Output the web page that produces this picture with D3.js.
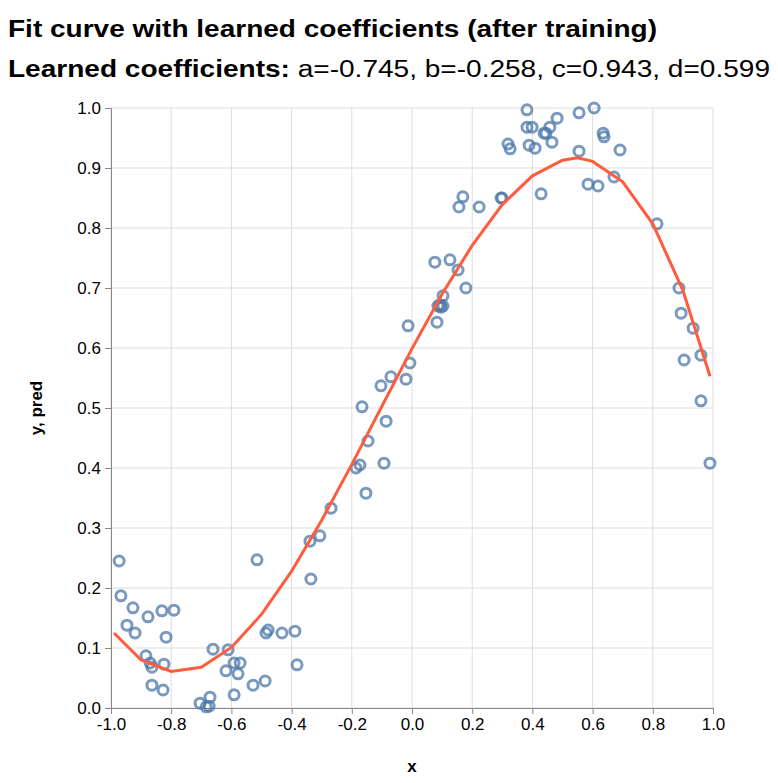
<!DOCTYPE html>
<html><head><meta charset="utf-8">
<script src="https://cdn.jsdelivr.net/npm/d3@7"></script>
<style>body{margin:0;background:#fff;font-family:"Liberation Sans",Arial,sans-serif}</style>
</head><body>
<script>
const xs = [-0.973,-0.967,-0.947,-0.927,-0.920,-0.877,-0.884,-0.870,-0.864,-0.864,-0.831,-0.824,-0.827,-0.817,-0.791,
  -0.704,-0.684,-0.671,-0.674,-0.661,-0.611,-0.618,-0.591,-0.591,-0.571,-0.578,-0.528,-0.515,-0.488,-0.485,-0.478,
  -0.432,-0.389,-0.382,-0.336,-0.339,-0.306,-0.269,-0.186,-0.173,-0.166,-0.153,-0.146,-0.103,-0.093,-0.086,-0.070,
  -0.020,-0.007,-0.013,0.076,0.083,0.086,0.093,0.096,0.103,0.103,0.126,0.153,0.179,0.156,0.169,0.223,0.296,0.299,
  0.319,0.326,0.382,0.382,0.399,0.389,0.409,0.429,0.439,0.445,0.458,0.482,0.465,0.555,0.555,0.585,0.605,0.618,
  0.635,0.638,0.671,0.691,0.814,0.887,0.894,0.904,0.934,0.960,0.960,0.990];
const ys = [0.245,0.187,0.138,0.167,0.125,0.152,0.087,0.075,0.068,0.038,0.162,0.073,0.030,0.118,0.163,
  0.008,0.002,0.018,0.003,0.098,0.097,0.062,0.022,0.075,0.075,0.057,0.038,0.247,0.045,0.125,0.130,
  0.125,0.128,0.072,0.215,0.278,0.287,0.333,0.400,0.405,0.502,0.358,0.445,0.537,0.408,0.478,0.552,
  0.548,0.575,0.637,0.743,0.643,0.670,0.672,0.668,0.687,0.670,0.747,0.730,0.700,0.835,0.852,0.835,0.850,0.850,
  0.940,0.932,0.997,0.968,0.968,0.938,0.933,0.857,0.958,0.958,0.968,0.983,0.943,0.928,0.992,0.873,1.000,0.870,
  0.958,0.952,0.885,0.930,0.807,0.700,0.658,0.580,0.633,0.588,0.512,0.408];
const curveX = [-0.99,-0.9,-0.8,-0.7,-0.6,-0.5,-0.4,-0.3,-0.2,-0.1,0,0.1,0.2,0.3,0.4,0.5,0.55,0.6,0.7,0.8,0.9,0.99];
const curveY = [0.125,0.080,0.061,0.068,0.101,0.156,0.228,0.313,0.406,0.503,0.599,0.690,0.771,0.839,0.887,0.913,0.917,0.911,0.877,0.807,0.696,0.553];
const xTicks = [-1.0,-0.8,-0.6,-0.4,-0.2,0.0,0.2,0.4,0.6,0.8,1.0];
const yTicks = [0,0.1,0.2,0.3,0.4,0.5,0.6,0.7,0.8,0.9,1.0];

const W = 778, H = 783, L = 111, R = 713, T = 108, B = 708;
const svg = d3.select("body").append("svg").attr("width", W).attr("height", H);
const x = d3.scaleLinear().domain([-1, 1]).range([L, R]);
const y = d3.scaleLinear().domain([0, 1]).range([B, T]);

svg.append("text").attr("x", 8).attr("y", 37).style("font-size", "23px").style("font-weight", "bold")
  .attr("textLength", 649).attr("lengthAdjust", "spacingAndGlyphs")
  .text("Fit curve with learned coefficients (after training)");
const sub = svg.append("text").attr("x", 8).attr("y", 77).style("font-size", "23px")
  .attr("textLength", 762).attr("lengthAdjust", "spacingAndGlyphs");
sub.append("tspan").style("font-weight", "bold").text("Learned coefficients: ");
sub.append("tspan").text("a=-0.745, b=-0.258, c=0.943, d=0.599");

// grid
svg.append("g").selectAll("line").data(xTicks).join("line")
  .attr("x1", d => x(d)).attr("x2", d => x(d)).attr("y1", T).attr("y2", B)
  .attr("stroke", "#ddd");
svg.append("g").selectAll("line").data(yTicks).join("line")
  .attr("y1", d => y(d)).attr("y2", d => y(d)).attr("x1", L).attr("x2", R)
  .attr("stroke", "#ddd");

const fmt = d => d3.format(".1f")(d).replace("−", "-");
const gx = svg.append("g").attr("transform", `translate(0,${B})`)
  .call(d3.axisBottom(x).tickValues(xTicks).tickFormat(fmt).tickSize(6).tickPadding(4));
const gy = svg.append("g").attr("transform", `translate(${L},0)`)
  .call(d3.axisLeft(y).tickValues(yTicks).tickFormat(fmt).tickSize(6).tickPadding(4));
[gx, gy].forEach(g => {
  g.selectAll("path,line").attr("stroke", "#888");
  g.selectAll("text").style("font-size", "17px").attr("fill", "#000").style("font-family", "Liberation Sans, Arial, sans-serif");
});
gy.selectAll("text").attr("dy", "0.35em");

svg.append("text").attr("x", (L + R) / 2).attr("y", 772).attr("text-anchor", "middle")
  .style("font-size", "17px").style("font-weight", "bold").text("x");
svg.append("text").attr("transform", `translate(42,${(T + B) / 2}) rotate(-90)`).attr("text-anchor", "middle")
  .style("font-size", "17px").style("font-weight", "bold").text("y, pred");

svg.append("g").selectAll("circle").data(xs).join("circle")
  .attr("cx", d => x(d)).attr("cy", (d, i) => y(ys[i])).attr("r", 5)
  .attr("fill", "none").attr("stroke", "#4c78a8").attr("stroke-width", 3).attr("opacity", 0.75);

svg.append("path").datum(curveX)
  .attr("d", d3.line().x(d => x(d)).y((d, i) => y(curveY[i])))
  .attr("fill", "none").attr("stroke", "#ff5c3d").attr("stroke-width", 3);
</script>
</body></html>
